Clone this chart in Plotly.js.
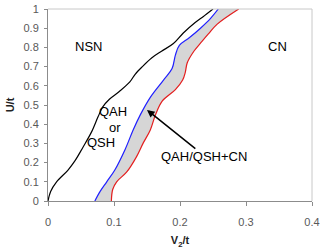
<!DOCTYPE html>
<html>
<head>
<meta charset="utf-8">
<script src="https://cdn.plot.ly/plotly-3.0.1.min.js"></script>
<style>html,body{margin:0;padding:0;background:#fff;}#chart{width:325px;height:251px;}</style>
</head>
<body>
<div id="chart"></div>
<script>
// NSN boundary (black)
const blackY = [0, 0.05, 0.10, 0.16, 0.21, 0.28, 0.36, 0.44, 0.49, 0.53, 0.57, 0.62, 0.66, 0.70, 0.745, 0.78, 0.82, 0.875, 0.93, 0.96, 1.0];
const blackX = [0, 0.004, 0.013, 0.030, 0.041, 0.053, 0.066, 0.076, 0.083, 0.093, 0.108, 0.124, 0.132, 0.143, 0.157, 0.172, 0.190, 0.205, 0.223, 0.235, 0.250];
// QAH/QSH lower boundary (blue)
const blueY = [0, 0.05, 0.10, 0.16, 0.27, 0.37, 0.45, 0.54, 0.63, 0.69, 0.76, 0.81, 0.85, 0.90, 0.95, 1.0];
const blueX = [0.071, 0.079, 0.089, 0.101, 0.117, 0.129, 0.140, 0.155, 0.175, 0.188, 0.193, 0.199, 0.214, 0.231, 0.246, 0.258];
// CN boundary (red)
const redY = [0, 0.06, 0.10, 0.15, 0.23, 0.30, 0.37, 0.45, 0.52, 0.58, 0.63, 0.67, 0.72, 0.78, 0.83, 0.87, 0.92, 1.0];
const redX = [0.096, 0.098, 0.104, 0.119, 0.134, 0.144, 0.155, 0.163, 0.173, 0.193, 0.204, 0.208, 0.211, 0.221, 0.233, 0.243, 0.256, 0.289];

const xTicks = [0, 0.1, 0.2, 0.3, 0.4];
const xTickLabels = ['0', '0.1', '0.2', '0.3', '0.4'];
const yTicks = [0, 0.1, 0.2, 0.3, 0.4, 0.5, 0.6, 0.7, 0.8, 0.9, 1];
const yTickLabels = ['0', '0.1', '0.2', '0.3', '0.4', '0.5', '0.6', '0.7', '0.8', '0.9', '1'];

const bandX = blueX.concat(redX.slice().reverse());
const bandY = blueY.concat(redY.slice().reverse());

const traces = [
  {x: bandX, y: bandY, type: 'scatter', mode: 'none', fill: 'toself', fillcolor: '#d6d6d6', hoverinfo: 'skip', showlegend: false},
  {x: blackX, y: blackY, type: 'scatter', mode: 'lines', line: {color: '#000000', width: 1.2, shape: 'spline'}, showlegend: false},
  {x: blueX, y: blueY, type: 'scatter', mode: 'lines', line: {color: '#1f1fff', width: 1.2, shape: 'spline'}, showlegend: false},
  {x: redX, y: redY, type: 'scatter', mode: 'lines', line: {color: '#e41e1e', width: 1.2, shape: 'spline'}, showlegend: false}
];

const font = 'Arial, "Liberation Sans", sans-serif';
const annFont = {family: font, size: 13, color: '#000'};

const layout = {
  width: 325, height: 251,
  margin: {l: 48, r: 13, t: 9, b: 50},
  paper_bgcolor: '#fff', plot_bgcolor: '#fff',
  showlegend: false,
  font: {family: font},
  xaxis: {
    range: [0, 0.4], tickvals: xTicks, ticktext: xTickLabels,
    showgrid: false, zeroline: false, showline: true, linecolor: '#8c8c8c', linewidth: 1,
    ticks: 'outside', ticklen: 4, tickcolor: '#8c8c8c', ticklabelstandoff: 7,
    tickfont: {family: font, size: 11, color: '#595959'},
    title: {text: '<b>V<sub>2</sub>/t</b>', font: {family: font, size: 11, color: '#222'}, standoff: 9},
    automargin: false, fixedrange: true
  },
  yaxis: {
    range: [0, 1], tickvals: yTicks, ticktext: yTickLabels,
    showgrid: false, zeroline: false, showline: true, linecolor: '#8c8c8c', linewidth: 1,
    ticks: 'outside', ticklen: 3, tickcolor: '#8c8c8c', ticklabelstandoff: 3,
    tickfont: {family: font, size: 11, color: '#595959'},
    title: {text: '<b>U/t</b>', font: {family: font, size: 11, color: '#222'}, standoff: 6},
    automargin: false, fixedrange: true
  },
  shapes: [
    {type: 'line', xref: 'paper', yref: 'paper', x0: 0, x1: 1, y0: 1, y1: 1, line: {color: '#c8c8c8', width: 1}},
    {type: 'line', xref: 'paper', yref: 'paper', x0: 1, x1: 1, y0: 0, y1: 1, line: {color: '#c8c8c8', width: 1}}
  ],
  annotations: [
    {x: 0.061, y: 0.805, xref: 'x', yref: 'y', text: 'NSN', showarrow: false, font: annFont},
    {x: 0.347, y: 0.805, xref: 'x', yref: 'y', text: 'CN', showarrow: false, font: annFont},
    {x: 0.099, y: 0.465, xref: 'x', yref: 'y', text: 'QAH', showarrow: false, font: annFont},
    {x: 0.101, y: 0.385, xref: 'x', yref: 'y', text: 'or', showarrow: false, font: annFont},
    {x: 0.080, y: 0.303, xref: 'x', yref: 'y', text: 'QSH', showarrow: false, font: annFont},
    {x: 0.236, y: 0.231, xref: 'x', yref: 'y', text: 'QAH/QSH+CN', showarrow: false, font: annFont},
    {x: 0.150, y: 0.474, xref: 'x', yref: 'y', text: '', showarrow: true,
     axref: 'x', ayref: 'y', ax: 0.2255, ay: 0.267,
     arrowhead: 2, arrowsize: 1, arrowwidth: 1.5, arrowcolor: '#000'}
  ]
};

Plotly.newPlot('chart', traces, layout, {staticPlot: true, displayModeBar: false});
</script>
</body>
</html>
